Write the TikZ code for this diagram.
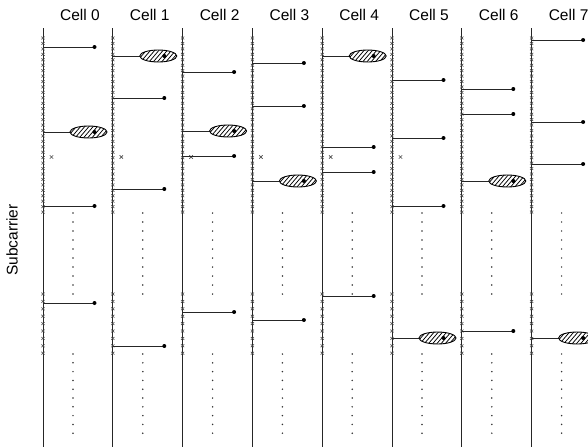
\documentclass[tikz,border=0pt]{standalone}
\usepackage{fontspec}
\setmainfont{Liberation Sans}
\begin{document}
\begin{tikzpicture}[x=1pt,y=-1pt,
  vline/.style={draw=black!85,line width=0.9pt},
  hline/.style={draw=black!85,line width=0.8pt},
  xmark/.style={draw=black!70,line width=0.6pt},
  enddot/.style={fill=black},
  coldot/.style={fill=black!80},
  hatchline/.style={draw=black,line width=0.75pt},
  hatchedge/.style={draw=black,line width=0.9pt},
  lbl/.style={font=\fontsize{15.5}{18}\selectfont,inner sep=0pt}]
\useasboundingbox (0,0) rectangle (588,447);
% rotated axis label
\node[lbl,rotate=90] (sub) at (12,240) {Subcarrier};
% cells: index / list of y:type
\foreach \c/\items in {
  0/{47/d,132/e,206/d,303/d},
  1/{56/e,98/d,189/d,346/d},
  2/{72/d,131/e,156/d,312/d},
  3/{63/d,106/d,181/e,320/d},
  4/{56/e,147/d,172/d,296/d},
  5/{80/d,138/d,206/d,338/e},
  6/{89/d,114/d,181/e,331/d},
  7/{40/d,122/d,164/d,338/e}}{
  \pgfmathsetmacro{\xo}{43+69.8*\c}
  \node[lbl] (cell\c) at (\xo+37,15) {Cell \c};
  \coordinate (top\c) at (\xo,28);
  \coordinate (bot\c) at (\xo,447);
  \draw[vline] (top\c) -- (bot\c);
  % upper crosses
  \foreach \k in {0,...,32}{
    \pgfmathsetmacro{\yy}{38+\k*5.44}
    \draw[xmark] (\xo-1.6,\yy-1.4) -- (\xo+1.6,\yy+1.4) (\xo-1.6,\yy+1.4) -- (\xo+1.6,\yy-1.4);
  }
  % lower crosses
  \foreach \k in {0,...,8}{
    \pgfmathsetmacro{\yy}{294+\k*7.4}
    \draw[xmark] (\xo-1.6,\yy-1.4) -- (\xo+1.6,\yy+1.4) (\xo-1.6,\yy+1.4) -- (\xo+1.6,\yy-1.4);
  }
  % dotted columns
  \foreach \k in {0,...,9}{
    \fill[coldot] (\xo+30,213+\k*9) circle (0.85);
    \fill[coldot] (\xo+30,354+\k*8.8) circle (0.85);
  }
  % extra x beside the line
  \ifnum\c<6
    \draw[xmark,line width=0.65pt] (\xo+6.8,155.3) -- (\xo+10.2,158.7) (\xo+6.8,158.7) -- (\xo+10.2,155.3);
  \fi
  % horizontal lines
  \foreach \yy/\t in \items{
    \coordinate (s) at (\xo,\yy);
    \coordinate (e) at (\xo+51.5,\yy);
    \if\t d
      \draw[hline] (s) -- (e);
      \fill[enddot] (e) circle (2);
    \else
      \coordinate (m) at (\xo+27,\yy);
      \draw[hline] (s) -- (m);
      \fill[white] (\xo+45.5,\yy) ellipse [x radius=18.5,y radius=6];
      \begin{scope}
        \clip (\xo+45.5,\yy) ellipse [x radius=18.5,y radius=6];
        \foreach \h in {-6,...,6}{
          \draw[hatchline] (\xo+45.5+\h*4.2-6,\yy+7) -- (\xo+45.5+\h*4.2+6,\yy-7);
        }
      \end{scope}
      \draw[hatchedge] (\xo+45.5,\yy) ellipse [x radius=18.5,y radius=6];
      \fill[enddot] (e) circle (2);
    \fi
  }
}
\end{tikzpicture}
\end{document}
